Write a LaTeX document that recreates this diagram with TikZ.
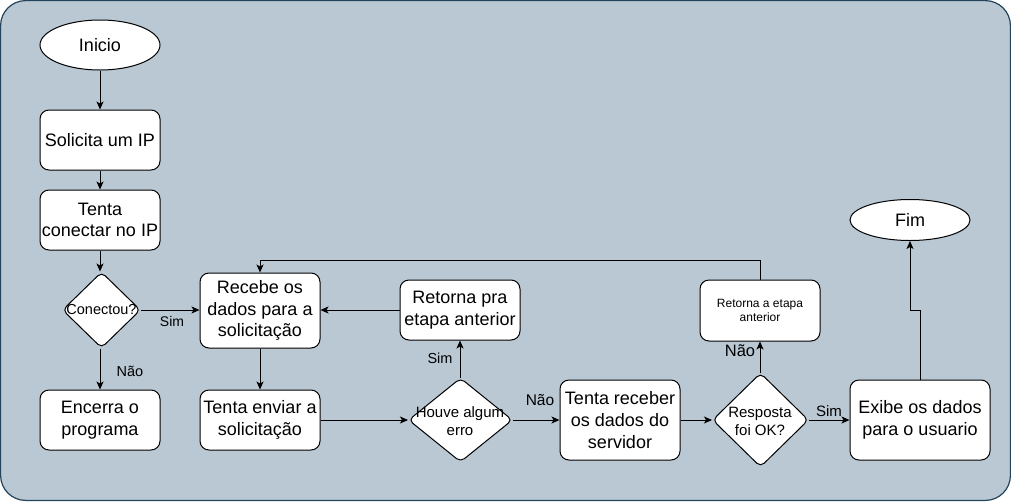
\documentclass[tikz,border=0pt]{standalone}
\usepackage{fontspec}
\setmainfont{Liberation Sans}
\usetikzlibrary{shapes.geometric,arrows.meta}
\definecolor{bgfill}{HTML}{BAC8D3}
\definecolor{bgline}{HTML}{23445D}
\tikzset{
  proc/.style={draw=black, fill=white, rectangle, rounded corners=9pt, line width=1pt,
    inner sep=0pt, align=center, font=\fontsize{18}{21.6}\selectfont},
  term/.style={draw=black, fill=white, ellipse, line width=1pt, inner sep=0pt,
    font=\fontsize{18}{21.6}\selectfont},
  dec/.style={draw=black, fill=white, diamond, rounded corners=5pt, line width=1pt, inner sep=0pt},
  dtext/.style={align=center, inner sep=0pt, font=\fontsize{15}{18}\selectfont},
  lbl/.style={inner sep=0pt, font=\fontsize{14}{16}\selectfont},
  arr/.style={draw=black, line width=1pt, -{Stealth[length=8pt,width=7pt,inset=2pt]}},
  ln/.style={draw=black, line width=1pt},
}
\begin{document}
\begin{tikzpicture}[x=1pt,y=-1pt]
\useasboundingbox (0,0) rectangle (1011,501);
\path[fill=bgfill, draw=bgline, line width=1.2pt, rounded corners=25pt] (0.6,0.6) rectangle (1010.4,500.4);

% nodes
\node[term, minimum width=120, minimum height=50] (inicio) at (100,45) {Inicio};
\node[proc, minimum width=120, minimum height=60] (solicita) at (100,140) {Solicita um IP};
\node[proc, minimum width=120, minimum height=60] (tenta) at (100,220) {Tenta\\conectar no IP};
\node[dec, minimum width=78, minimum height=76] (conectou) at (101.5,310) {};
\node[dtext, font=\fontsize{14.5}{17}\selectfont] (conectout) at (conectou) {Conectou?};
\node[proc, minimum width=120, minimum height=60] (encerra) at (100,420) {Encerra o\\programa};

\node[proc, minimum width=120, minimum height=75] (recebe) at (260,310.5) {Recebe os\\dados para a\\solicitação};
\node[proc, minimum width=120, minimum height=60] (enviar) at (260,420) {Tenta enviar a\\solicitação};

\node[proc, minimum width=120, minimum height=60] (retpra) at (460,310) {Retorna pra\\etapa anterior};
\node[dec, minimum width=104, minimum height=84] (houve) at (460.5,420) {};
\node[dtext] (houvet) at (460,421) {Houve algum\\erro};

\node[proc, minimum width=120, minimum height=80] (receber) at (620,420) {Tenta receber\\os dados do\\servidor};

\node[proc, minimum width=120, minimum height=61, font=\fontsize{12}{14.4}\selectfont] (retet) at (760,310.5) {Retorna a etapa\\anterior};
\node[dec, minimum width=96, minimum height=94] (resposta) at (760.5,420) {};
\node[dtext] (respostat) at (760,421) {Resposta\\foi OK?};

\node[proc, minimum width=140, minimum height=80] (exibe) at (920,420) {Exibe os dados\\para o usuario};
\node[term, minimum width=120, minimum height=41] (fim) at (910,220) {Fim};

% edge labels
\node[lbl] (l1) at (172,321) {Sim};
\node[lbl, font=\fontsize{14.5}{17}\selectfont] (l2) at (130,371) {Não};
\node[lbl, font=\fontsize{14.5}{17}\selectfont] (l3) at (440,358) {Sim};
\node[lbl, font=\fontsize{15.5}{18}\selectfont] (l4) at (540,400) {Não};
\node[lbl, font=\fontsize{16.5}{19}\selectfont] (l5) at (740,351) {Não};
\node[lbl, font=\fontsize{15}{18}\selectfont] (l6) at (829,411) {Sim};

% coordinates
\coordinate (toploop) at (0,260);
\coordinate (jog) at (910,310);

% connectors
\draw[arr] (inicio) -- (solicita);
\draw[arr] (solicita) -- (tenta);
\draw[arr] (tenta.south) -- (tenta.south |- conectou.north);
\draw[arr] (conectou.south -| encerra.north) -- (encerra.north);
\draw[arr] (conectou.east) -- (recebe.west |- conectou.east);
\draw[arr] (recebe) -- (enviar);
\draw[arr] (enviar.east) -- (houve.west |- enviar.east);
\draw[arr] (houve.north -| retpra.south) -- (retpra.south);
\draw[arr] (retpra.west) -- (recebe.east |- retpra.west);
\draw[arr] (houve.east) -- (receber.west);
\draw[arr] (receber.east) -- (resposta.west);
\draw[arr] (resposta.north -| retet.south) -- (retet.south);
\draw[arr] (retet.north) |- (toploop -| recebe.north) -- (recebe.north);
\draw[arr] (resposta.east) -- (exibe.west);
\draw[arr] (exibe.north) |- (jog) -- (fim.south);
\end{tikzpicture}
\end{document}
